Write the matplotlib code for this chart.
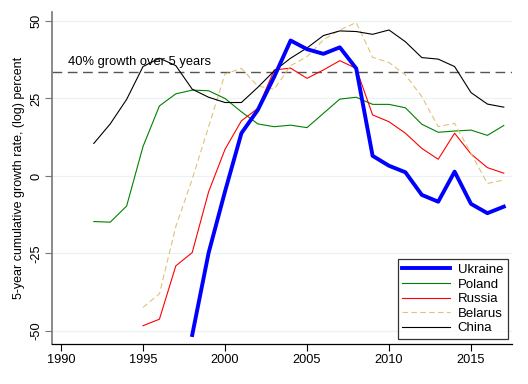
import matplotlib
matplotlib.use('Agg')
import matplotlib.pyplot as plt

plt.rcParams['font.family'] = ['Liberation Sans', 'DejaVu Sans']

years = list(range(1992, 2018))

ukraine = [None, None, None, None, None, None, -51.3, -24.8, -5.0, 13.8, 21.3, 32.0, 43.7,
           40.9, 39.4, 41.5, 34.7, 6.5, 3.3, 1.2, -6.1, -8.3, 1.4, -9.0, -12.0, -9.9]
poland = [-14.7, -14.9, -9.7, 9.5, 22.6, 26.5, 27.7, 27.5, 25.0, 20.7, 16.8, 15.9, 16.4,
          15.6, 20.2, 24.8, 25.4, 23.1, 23.1, 22.0, 16.7, 14.1, 14.5, 14.8, 13.1, 16.3]
russia = [None, None, None, -48.3, -46.2, -29.0, -24.7, -5.1, 8.6, 17.8, 21.8, 34.2, 34.8,
          31.5, 34.2, 37.2, 34.7, 19.7, 17.5, 13.8, 8.9, 5.4, 13.8, 7.1, 2.7, 0.9]
belarus = [None, None, None, -42.4, -38.0, -16.3, -1.0, 15.9, 32.9, 34.7, 29.0, 28.0, 35.6,
           38.5, 43.9, 47.1, 49.5, 38.3, 36.6, 32.6, 25.6, 15.9, 17.0, 7.3, -2.4, -1.3]
china = [10.5, 16.8, 24.7, 35.3, 38.0, 35.6, 28.0, 25.4, 23.7, 23.7, 28.6, 33.9, 38.0,
         41.3, 45.3, 46.8, 46.6, 45.7, 47.1, 43.3, 38.2, 37.7, 35.3, 26.9, 23.2, 22.2]

threshold = 33.6  # log(1.4) * 100
threshold_label = '40% growth over 5 years'


def clean(vals):
    xs = [y for y, v in zip(years, vals) if v is not None]
    ys = [v for v in vals if v is not None]
    return xs, ys


fig = plt.figure(figsize=(5.28, 3.84), dpi=100)
ax = fig.add_axes([52 / 528, 40 / 384, 460 / 528, 332 / 384])

for yv in [-50, -25, 0, 25, 50]:
    ax.axhline(yv, color='#eaf2f3', lw=0.9, zorder=0)

ax.axhline(threshold, color='#555555', lw=1.0, dashes=(7, 4), zorder=1)
ax.text(1990.4, threshold + 1.3, threshold_label, fontsize=9.3, color='black',
        ha='left', va='bottom')

ax.plot(*clean(ukraine), color='#0000ff', lw=2.8, label='Ukraine', zorder=5)
ax.plot(*clean(poland), color='#008000', lw=0.8, label='Poland', zorder=3)
ax.plot(*clean(russia), color='#ff0000', lw=0.8, label='Russia', zorder=3)
ax.plot(*clean(belarus), color='#e0c27a', lw=0.8, dashes=(5, 3), label='Belarus', zorder=3)
ax.plot(*clean(china), color='black', lw=0.8, label='China', zorder=3)

ax.set_xlim(1989.45, 2017.5)
ax.set_ylim(-54.2, 52.9)
ax.set_xticks([1990, 1995, 2000, 2005, 2010, 2015])
ax.set_yticks([-50, -25, 0, 25, 50])
ax.set_yticklabels(['-50', '-25', '0', '25', '50'], rotation=90, va='center')
ax.tick_params(axis='both', labelsize=9.2, length=5, width=0.8)
ax.tick_params(axis='y', color='#777777', pad=2)
ax.tick_params(axis='x', pad=2)
ax.set_ylabel('5-year cumulative growth rate, (log) percent', fontsize=9, labelpad=4)

ax.spines['top'].set_visible(False)
ax.spines['right'].set_visible(False)
ax.spines['left'].set_color('#777777')
ax.spines['left'].set_linewidth(1.2)
ax.spines['bottom'].set_linewidth(0.9)

leg = ax.legend(loc='lower right', fontsize=9.5, frameon=True, fancybox=False,
                edgecolor='black', handlelength=3.6, labelspacing=0.18,
                borderpad=0.35, handletextpad=0.6, borderaxespad=0,
                bbox_to_anchor=(0.991, 0.015))
leg.get_frame().set_linewidth(0.9)

fig.savefig('out.png', dpi=100)
